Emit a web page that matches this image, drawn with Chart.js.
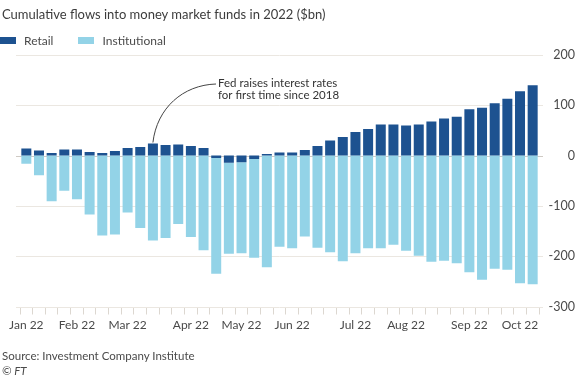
<!DOCTYPE html>
<html>
<head>
<meta charset="utf-8">
<script src="https://cdn.jsdelivr.net/npm/chart.js@4"></script>
<style>
  html, body { margin: 0; padding: 0; background: #fff; }
  body { width: 575px; height: 379px; position: relative; overflow: hidden; font-family: Lato, sans-serif; color: #4a4a4a; }
  #wrap { position: absolute; left: 0; top: 0; width: 575px; height: 379px; }
  .title { position: absolute; left: 2px; top: 6px; font-size: 13px; color: #3c3c3c; white-space: nowrap; }
  .legend { position: absolute; left: 0; top: 33px; font-size: 12px; white-space: nowrap; }
  .legend span.sw { display: inline-block; width: 16px; height: 7px; vertical-align: 1px; margin-right: 8px; }
  .legend span.item { margin-right: 22px; }
  .source { position: absolute; left: 2px; top: 349px; font-size: 11.5px; white-space: nowrap; }
  .ft { position: absolute; left: 2px; top: 364px; font-size: 11.5px; font-style: italic; }
</style>
</head>
<body>
<div id="wrap"><canvas id="flowsChart" width="575" height="379"></canvas></div>
<div class="title">Cumulative flows into money market funds in 2022 ($bn)</div>
<div class="legend">
  <span class="item"><span class="sw" style="background:#1d5290"></span>Retail</span>
  <span class="item"><span class="sw" style="background:#93d3e7"></span>Institutional</span>
</div>
<div class="source">Source: Investment Company Institute</div>
<div class="ft">© FT</div>
<script>
/** weekly data, cumulative since start of 2022 ($bn) */
const weeks = [
  '2022-01-05', '2022-01-12', '2022-01-19', '2022-01-26',
  '2022-02-02', '2022-02-09', '2022-02-16', '2022-02-23',
  '2022-03-02', '2022-03-09', '2022-03-16', '2022-03-23', '2022-03-30',
  '2022-04-06', '2022-04-13', '2022-04-20', '2022-04-27',
  '2022-05-04', '2022-05-11', '2022-05-18', '2022-05-25',
  '2022-06-01', '2022-06-08', '2022-06-15', '2022-06-22', '2022-06-29',
  '2022-07-06', '2022-07-13', '2022-07-20', '2022-07-27',
  '2022-08-03', '2022-08-10', '2022-08-17', '2022-08-24', '2022-08-31',
  '2022-09-07', '2022-09-14', '2022-09-21', '2022-09-28',
  '2022-10-05', '2022-10-12',
];
const retail = [
  14, 10, 5, 12, 12, 7, 5, 9, 15, 17, 24, 21, 22, 19, 15,
  -5, -14, -13, -7, 3, 6, 6, 11, 19, 30, 37, 47, 53, 62, 62,
  60, 62, 68, 74, 77, 92, 95, 104, 113, 128, 140,
];
const institutional = [
  -16, -39, -91, -70, -87, -117, -159, -157, -113, -144, -169, -164, -136, -162, -188,
  -230, -181, -181, -196, -222, -181, -184, -161, -183, -192, -210, -194, -184, -184, -177,
  -189, -199, -211, -209, -214, -232, -247, -225, -227, -254, -256,
];
const monthNames = ['Jan', 'Feb', 'Mar', 'Apr', 'May', 'Jun', 'Jul', 'Aug', 'Sep', 'Oct', 'Nov', 'Dec'];
const yTicks = [200, 100, 0, -100, -200, -300];

// annotation: Fed hike week
const fedWeek = '2022-03-16';
const fedText = ['Fed raises interest rates', 'for first time since 2018'];

const gridPlugin = {
  id: 'ftGrid',
  beforeDatasetsDraw(chart) {
    const { ctx, chartArea, scales } = chart;
    ctx.save();
    yTicks.forEach((v) => {
      const y = Math.round(scales.y.getPixelForValue(v)) + 0.5;
      ctx.strokeStyle = v === 0 ? '#cfcac4' : '#ebe7e1';
      ctx.lineWidth = 1;
      ctx.beginPath();
      ctx.moveTo(chartArea.left - 4, y);
      ctx.lineTo(chartArea.right + 4, y);
      ctx.stroke();
    });
    ctx.restore();
  },
};

const notePlugin = {
  id: 'fedNote',
  afterDatasetsDraw(chart) {
    const { ctx, scales } = chart;
    const i = weeks.indexOf(fedWeek);
    const bx = scales.x.getPixelForValue(i);
    const by = scales.y.getPixelForValue(retail[i]) - 1;
    const tx = 218;
    const ty = 83;
    ctx.save();
    ctx.strokeStyle = '#444';
    ctx.lineWidth = 1;
    ctx.beginPath();
    ctx.moveTo(tx - 2, ty + 1);
    ctx.bezierCurveTo(tx - 35, ty + 2, bx + 4, ty + 25, bx, by);
    ctx.stroke();
    ctx.fillStyle = '#333';
    ctx.font = '11.5px Lato';
    ctx.textBaseline = 'middle';
    ctx.fillText(fedText[0], tx, ty);
    ctx.fillText(fedText[1], tx, ty + 12);
    ctx.restore();
  },
};

const flowsData = {
  labels: weeks,
  datasets: [
    {
      label: 'Retail',
      data: retail,
      backgroundColor: '#1d5290',
      borderWidth: 0,
      barPercentage: 0.79,
      categoryPercentage: 1,
    },
    {
      label: 'Institutional',
      data: institutional,
      backgroundColor: '#93d3e7',
      borderWidth: 0,
      barPercentage: 0.79,
      categoryPercentage: 1,
    },
  ],
};

const flowsConfig = {
  type: 'bar',
  data: flowsData,
  options: {
    responsive: false,
    animation: false,
    layout: {
      padding: { left: 20, right: 0, top: 55, bottom: 0 },
    },
    plugins: {
      legend: { display: false },
      tooltip: { enabled: false },
    },
    scales: {
      x: {
        stacked: true,
        grid: {
          drawOnChartArea: false,
          drawTicks: true,
          tickLength: 8,
          color: '#dcd7d0',
        },
        border: { display: false },
        ticks: {
          autoSkip: false,
          maxRotation: 0,
          padding: 3,
          color: '#4a4a4a',
          font: { family: 'Lato', size: 12 },
          callback: function (value, index) {
            const d = weeks[index];
            const prev = weeks[index - 1];
            if (prev && prev.slice(5, 7) === d.slice(5, 7)) return '';
            return monthNames[Number(d.slice(5, 7)) - 1] + ' ' + d.slice(2, 4);
          },
        },
        afterFit: function (scale) {
          scale.height = 72.5;
        },
      },
      y: {
        stacked: true,
        position: 'right',
        min: -300,
        max: 200,
        grid: { display: false },
        border: { display: false },
        ticks: {
          stepSize: 100,
          crossAlign: 'far',
          padding: 4,
          color: '#4a4a4a',
          font: { family: 'Lato', size: 12.5 },
        },
        afterFit: function (scale) {
          scale.width = 36;
        },
      },
    },
  },
  plugins: [gridPlugin, notePlugin],
};

const flowsChart = new Chart(document.getElementById('flowsChart'), flowsConfig);
</script>
</body>
</html>
